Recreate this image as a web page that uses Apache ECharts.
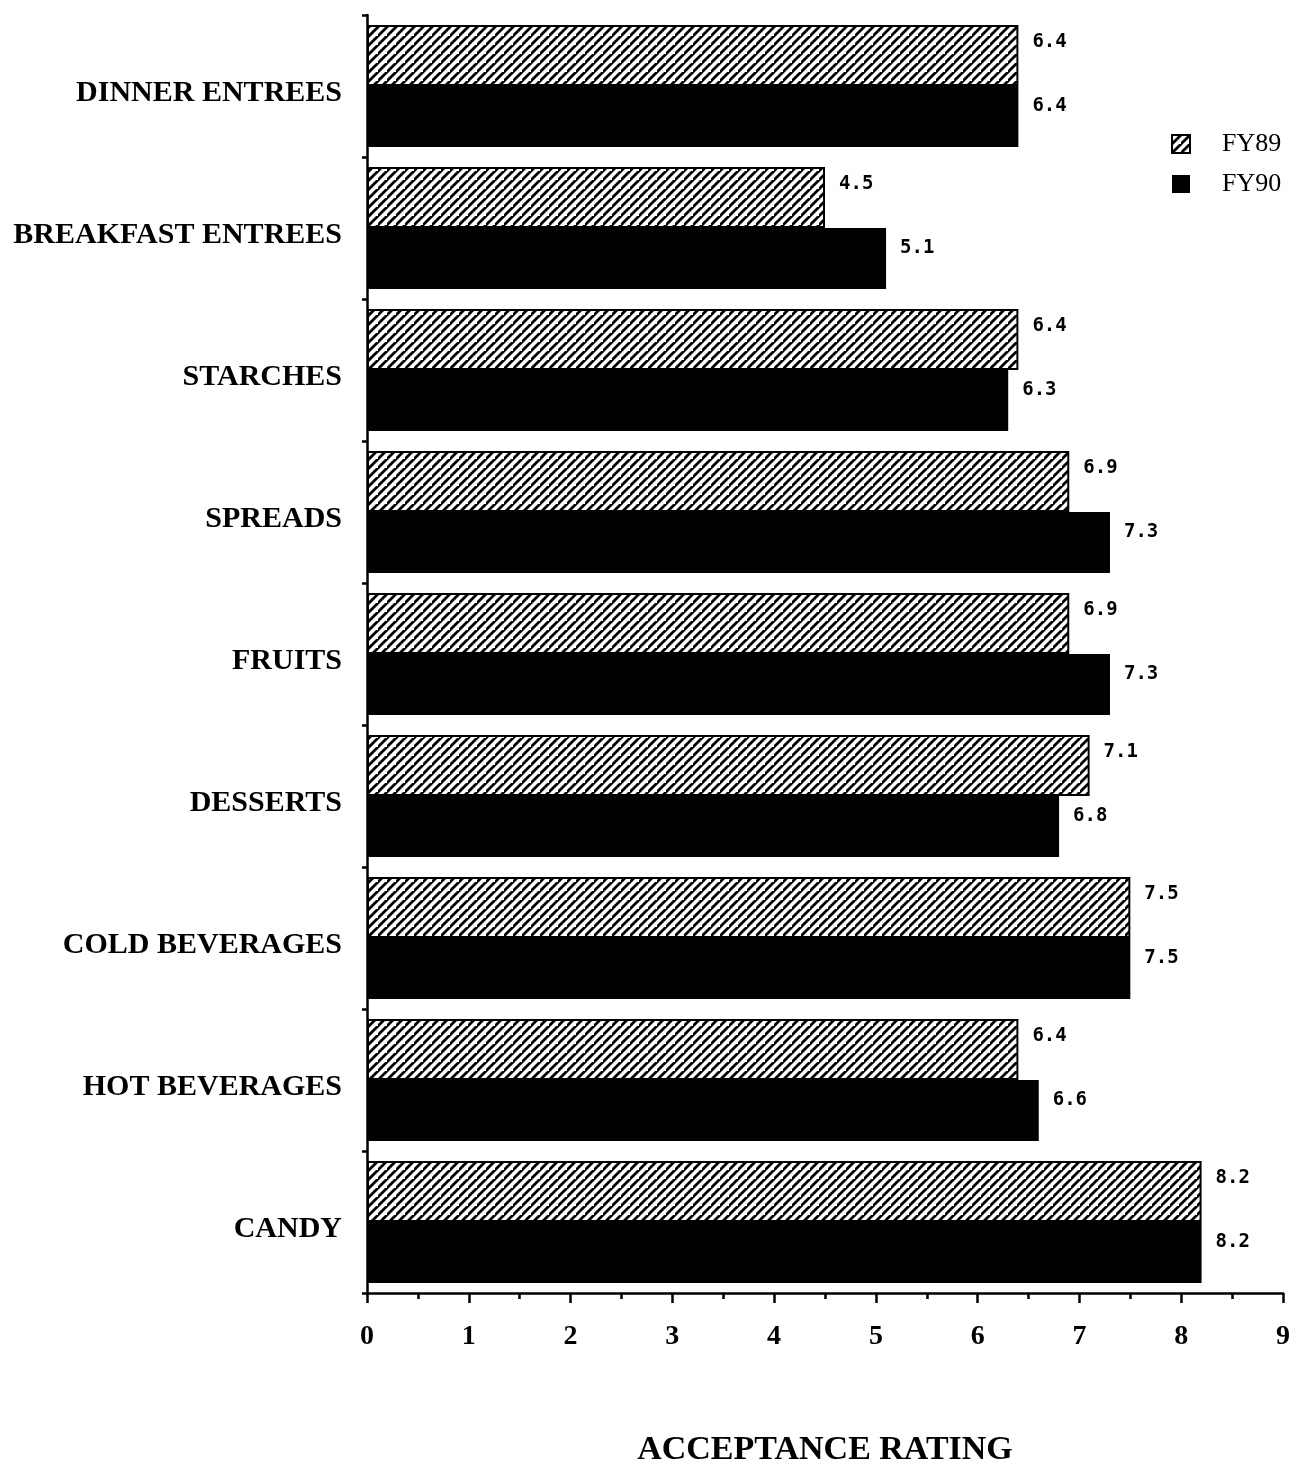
<!DOCTYPE html>
<html>
<head>
<meta charset="utf-8">
<style>
html,body{margin:0;padding:0;background:#fff;}
#chart{width:1310px;height:1472px;}
</style>
<script src="https://cdn.jsdelivr.net/npm/echarts@6/dist/echarts.min.js"></script>
</head>
<body>
<div id="chart"></div>
<script>
const categories = ['DINNER ENTREES','BREAKFAST ENTREES','STARCHES','SPREADS','FRUITS','DESSERTS','COLD BEVERAGES','HOT BEVERAGES','CANDY'];
const fy89 = [6.4, 4.5, 6.4, 6.9, 6.9, 7.1, 7.5, 6.4, 8.2];
const fy90 = [6.4, 5.1, 6.3, 7.3, 7.3, 6.8, 7.5, 6.6, 8.2];
const xTicks = [0,1,2,3,4,5,6,7,8,9];

// diagonal hatch tile
function makeHatch(){
  const s = 9;
  const c = document.createElement('canvas');
  c.width = s; c.height = s;
  const g = c.getContext('2d');
  g.fillStyle = '#fff'; g.fillRect(0,0,s,s);
  g.strokeStyle = '#000'; g.lineWidth = 2.8; g.lineCap = 'square';
  g.beginPath();
  g.moveTo(-2, s+2); g.lineTo(s+2, -2);
  g.moveTo(-2-s, s+2); g.lineTo(2, -2);
  g.moveTo(s-2, 2*s+2); g.lineTo(2*s+2, s-2);
  g.stroke();
  return c;
}
const hatch = {image: makeHatch(), repeat: 'repeat'};

const serif = '"Liberation Serif", "DejaVu Serif", serif';
const chart = echarts.init(document.getElementById('chart'));
chart.setOption({
  backgroundColor: '#fff',
  animation: false,
  grid: {left: 367, right: 27, top: 15, bottom: 178, containLabel: false},
  legend: {
    orient: 'vertical', left: 1166, top: 126,
    itemWidth: 18, itemHeight: 18, itemGap: 14,
    icon: 'rect',
    textStyle: {fontFamily: serif, fontSize: 26, color: '#000', padding: [0,0,0,27], lineHeight: 26},
    data: ['FY89','FY90']
  },
  xAxis: {
    type: 'value', min: 0, max: 9, interval: 1,
    name: 'ACCEPTANCE RATING', nameLocation: 'middle', nameGap: 140,
    nameTextStyle: {fontFamily: serif, fontSize: 34, fontWeight: 'bold', color: '#000'},
    axisLine: {show: true, lineStyle: {color: '#000', width: 2.5}},
    axisTick: {show: true, inside: false, length: 10, lineStyle: {color: '#000', width: 2.5}},
    minorTick: {show: true, splitNumber: 2, length: 6, lineStyle: {color: '#000', width: 2.5}},
    splitLine: {show: false},
    axisLabel: {fontFamily: serif, fontSize: 28, fontWeight: 'bold', color: '#000', margin: 30,
      formatter: v => xTicks.includes(v) ? String(v) : ''}
  },
  yAxis: {
    type: 'category', data: categories, inverse: true,
    axisLine: {show: true, lineStyle: {color: '#000', width: 2.5}},
    axisTick: {show: true, inside: false, length: 5, alignWithLabel: false, lineStyle: {color: '#000', width: 2.5}},
    axisLabel: {fontFamily: serif, fontSize: 30, color: '#000', margin: 25, fontWeight: 'bold',
      formatter: v => '{a|' + v + '}',
      rich: {a: {fontFamily: serif, fontSize: 30, fontWeight: 'bold', color: '#000', lineHeight: 30, padding: [14,0,0,0]}}},
    splitLine: {show: false}
  },
  series: [
    {
      name: 'FY89', type: 'bar', data: fy89, barWidth: 61, barGap: '0%',
      itemStyle: {color: hatch, borderColor: '#000', borderWidth: 2},
      label: {show: true, position: 'right', distance: 14, offset: [0, -13],
        fontFamily: '"DejaVu Sans Mono", monospace', fontWeight: 'bold', fontSize: 19, color: '#000',
        formatter: p => p.value.toFixed(1)}
    },
    {
      name: 'FY90', type: 'bar', data: fy90, barWidth: 61, barGap: '0%',
      itemStyle: {color: '#000', borderColor: '#000', borderWidth: 0},
      label: {show: true, position: 'right', distance: 14, offset: [0, -10],
        fontFamily: '"DejaVu Sans Mono", monospace', fontWeight: 'bold', fontSize: 19, color: '#000',
        formatter: p => p.value.toFixed(1)}
    }
  ]
});
</script>
</body>
</html>
